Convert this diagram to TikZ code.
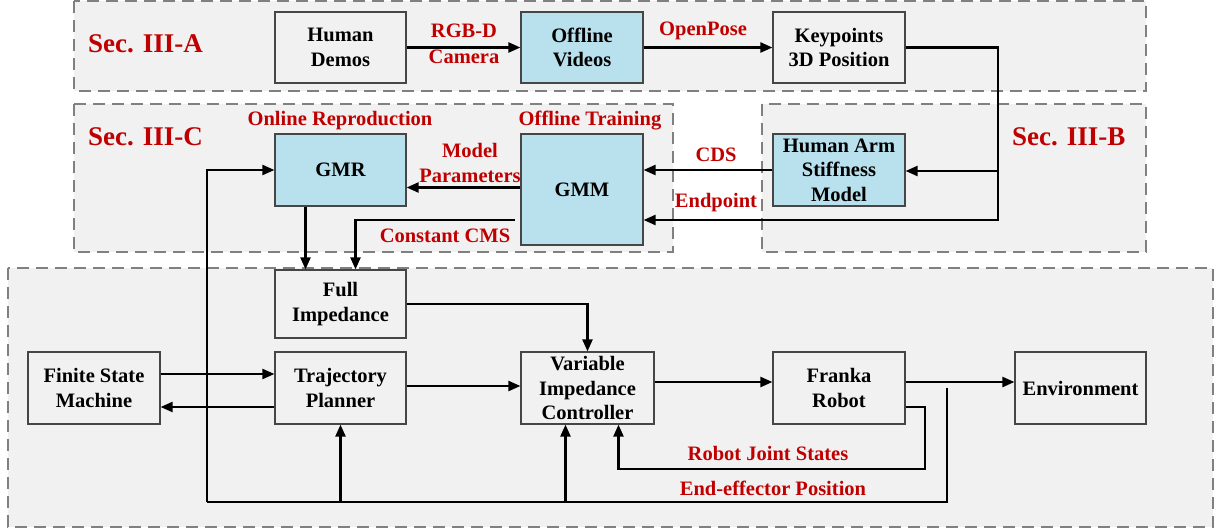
\documentclass[tikz,border=0pt]{standalone}
\usepackage{fontspec}
\setmainfont{Liberation Serif}
\usetikzlibrary{arrows.meta,calc}
\definecolor{lbl}{RGB}{192,0,0}
\definecolor{bluefill}{RGB}{185,224,237}
\definecolor{secfill}{RGB}{241,241,241}
\definecolor{secline}{RGB}{128,128,128}
\definecolor{boxline}{RGB}{70,70,70}
\begin{document}
\begin{tikzpicture}[x=1pt,y=-1pt,
  font=\fontsize{20.5}{24.5}\selectfont\bfseries,
  secbox/.style={draw=secline,fill=secfill,line width=1.7pt,dash pattern=on 12pt off 7pt},
  blk/.style={draw=boxline,line width=1.2pt,fill=secfill,align=center,inner sep=0pt},
  bblk/.style={blk,fill=bluefill},
  lab/.style={text=lbl,align=center,inner sep=0pt},
  seclab/.style={text=lbl,font=\fontsize{27}{30}\selectfont\bfseries,anchor=west,inner sep=0pt},
  conn/.style={line width=2.3pt,black},
  arr/.style={conn,-{Triangle[length=12pt,width=10pt]}}]
\useasboundingbox (0,0) rectangle (1215,528);
% section backgrounds
\draw[secbox] (74,1) rectangle (1146,91);
\draw[secbox] (74,104) rectangle (673,252);
\draw[secbox] (762,104) rectangle (1146,252);
\draw[secbox] (8,268) rectangle (1213,527);
% section labels
\node[seclab] (sa) at (88,44) {Sec. III-A};
\node[seclab] (sc) at (88,137) {Sec. III-C};
\node[seclab] (sb) at (1012,137) {Sec. III-B};
% nodes
\node[blk,minimum width=131pt,minimum height=71pt] (hd) at (340.5,47.5) {Human\\Demos};
\node[bblk,minimum width=122pt,minimum height=71pt] (ov) at (582,47.5) {Offline\\Videos};
\node[blk,minimum width=132pt,minimum height=71pt] (kp) at (839,47.5) {Keypoints\\3D Position};
\node[bblk,minimum width=131pt,minimum height=72pt] (gmr) at (340.5,170) {GMR};
\node[bblk,minimum width=122pt,minimum height=111pt] (gmm) at (582,189.5) {GMM};
\node[bblk,minimum width=132pt,minimum height=72pt] (ham) at (839,170) {Human Arm\\Stiffness\\Model};
\node[blk,minimum width=131pt,minimum height=68pt] (fi) at (340.5,304) {Full\\Impedance};
\node[blk,minimum width=132pt,minimum height=72pt] (fsm) at (94,388) {Finite State\\Machine};
\node[blk,minimum width=131pt,minimum height=72pt] (tp) at (340.5,388) {Trajectory\\Planner};
\node[blk,minimum width=133pt,minimum height=72pt] (vic) at (587.5,388) {Variable\\Impedance\\Controller};
\node[blk,minimum width=132pt,minimum height=72pt] (fr) at (839,388) {Franka\\Robot};
\node[blk,minimum width=131pt,minimum height=72pt] (env) at (1080.5,388) {Environment};
% junction coordinates
\coordinate (k1) at (998,171);
\coordinate (k2) at (998,220);
\coordinate (c1) at (515,220);
\coordinate (b1) at (207,502);
\coordinate (b2) at (947,502);
\coordinate (r1) at (925,469);
% connectors
\draw[arr] (hd.east) -- (ov.west);
\draw[arr] (ov.east) -- (kp.west);
\draw[arr] (kp.east) -| (k2) -- (gmm.east |- k2);
\draw[arr] (k1) -- (ham.east |- k1);
\draw[arr] (ham.west) -- (gmm.east |- ham.west);
\draw[arr] ([yshift=2pt]gmm.west) -- ([yshift=2pt]gmm.west -| gmr.east);
\draw[arr] (c1) -| ([xshift=15pt]fi.north);
\draw[arr] ([xshift=-35pt]gmr.south) -- ([xshift=-35pt]fi.north);
\draw[arr] (b1) |- (gmr.west);
\draw[conn] (b1) -- (b2) -- (b2 |- fr.east);
\draw[arr] (tp.south |- b1) -- (tp.south);
\draw[arr] ([xshift=-22pt]vic.south |- b1) -- ([xshift=-22pt]vic.south);
\draw[arr] (fi.east) -| (vic.north);
\draw[arr] ([yshift=14pt]fsm.east) -- ([yshift=14pt]tp.west);
\draw[arr] ([yshift=-19pt]tp.west) -- ([yshift=-19pt]fsm.east);
\draw[arr] ([yshift=2pt]tp.east) -- ([yshift=2pt]vic.west);
\draw[arr] ([yshift=6pt]vic.east) -- ([yshift=6pt]fr.west);
\draw[arr] ([yshift=6pt]fr.east) -- ([yshift=6pt]env.west);
\draw[arr] ([yshift=-19pt]fr.east) -| (r1) -| ([xshift=31pt]vic.south);
% labels
\node[lab] (l1) at (464,31) {RGB-D};
\node[lab] (l2) at (464,57) {Camera};
\node[lab] (l3) at (703,31) {OpenPose};
\node[lab] (l4) at (340,121) {Online Reproduction};
\node[lab] (l5) at (590,121) {Offline Training};
\node[lab] (l6) at (470,163) {Model\\Parameters};
\node[lab] (l7) at (716,155) {CDS};
\node[lab] (l8) at (716,203) {Endpoint};
\node[lab] (l9) at (445,236) {Constant CMS};
\node[lab] (l10) at (768,453) {Robot Joint States};
\node[lab] (l11) at (773,488) {End-effector Position};
\end{tikzpicture}
\end{document}
